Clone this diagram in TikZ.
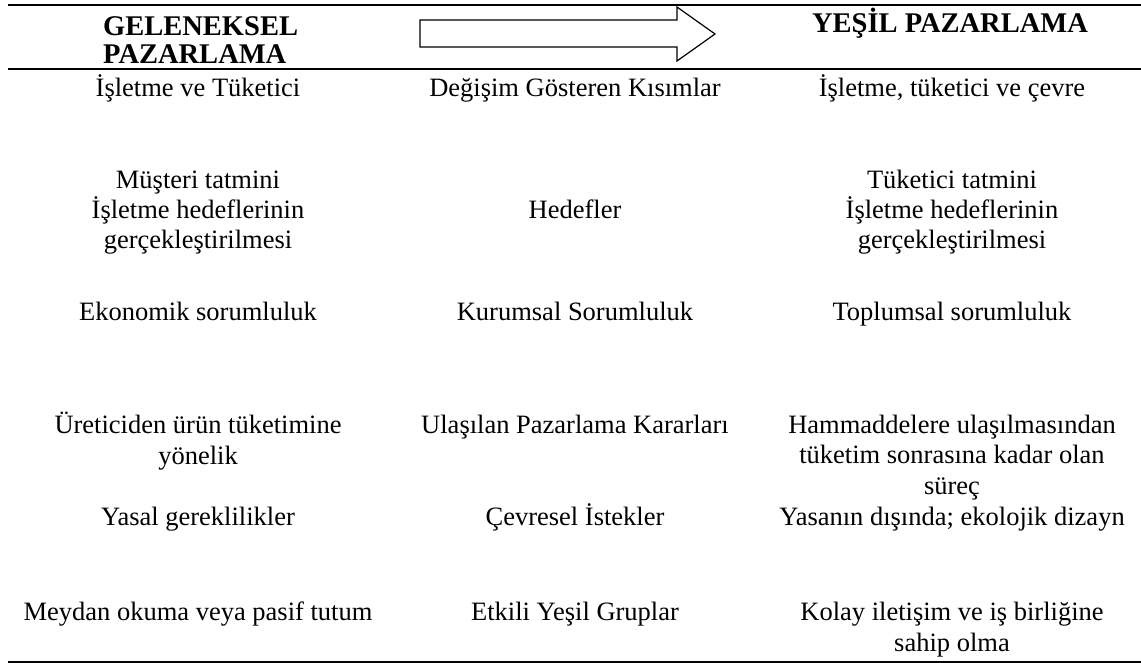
\documentclass[tikz,border=0pt]{standalone}
\usepackage{fontspec}
\setmainfont{Liberation Serif}
\begin{document}
\begin{tikzpicture}[x=1pt,y=-1pt,
  cell/.style={font=\fontsize{26.5}{30.3}\selectfont, align=center, inner sep=0pt, anchor=base},
  headtext/.style={font=\fontsize{28.5}{28.5}\selectfont\bfseries, inner sep=0pt, anchor=base},
  rulefull/.style={line width=2pt},
  bigarrow/.style={draw=black, line width=1.2pt, fill=white, line join=miter}]
\useasboundingbox (0,0) rectangle (1141,663);

% horizontal rules
\coordinate (t1) at (8,5);   \coordinate (t2) at (1141,5);
\coordinate (m1) at (8,69);  \coordinate (m2) at (1141,69);
\coordinate (b1) at (8,661.8); \coordinate (b2) at (1141,661.8);
\draw[rulefull] (t1) -- (t2);
\draw[rulefull] (m1) -- (m2);
\draw[line width=2.5pt] (b1) -- (b2);

% block arrow
\draw[bigarrow] (420,20) -- (677,20) -- (677,7) -- (715,34) -- (677,61) -- (677,47) -- (420,47) -- cycle;

% headers (multi-line nodes are anchored at the baseline of their last line)
\node[headtext, align=left, anchor=base west] (hl) at (103,64) {GELENEKSEL\\PAZARLAMA};
\node[headtext] (hr) at (950,33) {YEŞİL PAZARLAMA};

% row 1
\node[cell] (l1) at (198,97) {İşletme ve Tüketici};
\node[cell] (c1) at (575,97) {Değişim Gösteren Kısımlar};
\node[cell] (r1) at (952,97) {İşletme, tüketici ve çevre};

% row 2
\node[cell] (l2) at (198,249) {Müşteri tatmini\\İşletme hedeflerinin\\gerçekleştirilmesi};
\node[cell] (c2) at (575,219) {Hedefler};
\node[cell] (r2) at (952,249) {Tüketici tatmini\\İşletme hedeflerinin\\gerçekleştirilmesi};

% row 3
\node[cell] (l3) at (198,320) {Ekonomik sorumluluk};
\node[cell] (c3) at (575,320) {Kurumsal Sorumluluk};
\node[cell] (r3) at (952,320) {Toplumsal sorumluluk};

% row 4
\node[cell] (l4) at (198,464) {Üreticiden ürün tüketimine\\yönelik};
\node[cell] (c4) at (575,433) {Ulaşılan Pazarlama Kararları};
\node[cell] (r4) at (952,494) {Hammaddelere ulaşılmasından\\tüketim sonrasına kadar olan\\süreç};

% row 5
\node[cell] (l5) at (198,525) {Yasal gereklilikler};
\node[cell] (c5) at (575,525) {Çevresel İstekler};
\node[cell] (r5) at (952,525) {Yasanın dışında; ekolojik dizayn};

% row 6
\node[cell] (l6) at (198,620) {Meydan okuma veya pasif tutum};
\node[cell] (c6) at (575,620) {Etkili Yeşil Gruplar};
\node[cell] (r6) at (952,651) {Kolay iletişim ve iş birliğine\\sahip olma};
\end{tikzpicture}
\end{document}
